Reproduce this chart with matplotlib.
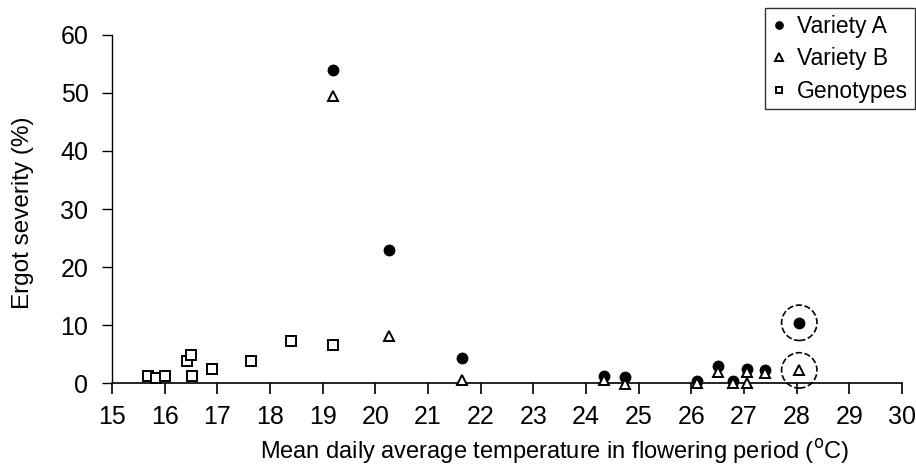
import matplotlib.pyplot as plt

plt.rcParams['font.family'] = ['Liberation Sans', 'DejaVu Sans']

# Variety A (filled circles)
xa = [19.2, 20.25, 21.65, 24.35, 24.75, 26.1, 26.5, 26.8, 27.05, 27.4, 28.05]
ya = [54.0, 23.0, 4.3, 1.2, 1.0, 0.3, 3.0, 0.3, 2.5, 2.2, 10.4]

# Variety B (open triangles)
xb = [19.2, 20.25, 21.65, 24.35, 24.75, 26.1, 26.5, 26.8, 27.05, 27.05, 27.4, 28.05]
yb = [49.5, 8.1, 0.5, 0.5, -0.2, 0.0, 1.9, 0.0, 0.0, 2.0, 1.8, 2.2]

# Genotypes (open squares)
xg = [15.68, 15.83, 16.0, 16.43, 16.5, 16.52, 16.89, 17.64, 18.39, 19.2]
yg = [1.15, 0.87, 1.15, 3.9, 4.9, 1.15, 2.4, 3.9, 7.2, 6.6]

# highlighted (dashed circle) points
xh = [28.05, 28.05]
yh = [10.4, 2.2]

fig = plt.figure(figsize=(9.16, 4.65), dpi=100)
ax = fig.add_axes([0.1223, 0.176, 0.8624, 0.749])

ax.plot(xg, yg, 's', ms=6.8, mfc='white', mec='black', mew=1.4,
        ls='none', label='Genotypes', clip_on=False, zorder=3)
ax.plot(xa, ya, 'o', ms=7.5, color='black', ls='none',
        label='Variety A', clip_on=False, zorder=3)
ax.plot(xb, yb, '^', ms=7.5, mfc='white', mec='black', mew=1.4,
        ls='none', label='Variety B', clip_on=False, zorder=4)
ax.scatter(xh, yh, s=650, facecolors='none', edgecolors='black',
           linestyles='--', linewidths=1.2, clip_on=False, zorder=2)

ax.set_xlim(15, 30)
ax.set_ylim(0, 60)
ax.set_xticks(range(15, 31))
ax.set_yticks(range(0, 61, 10))

for s in ['top', 'right']:
    ax.spines[s].set_visible(False)
ax.spines['bottom'].set_linewidth(1.2)
ax.spines['left'].set_linewidth(1.0)
ax.tick_params(axis='x', direction='out', length=8, width=1.2,
               labelsize=18, pad=8)
ax.tick_params(axis='y', direction='out', length=7, width=1.0,
               labelsize=18, pad=10)

ax.set_xlabel('Mean daily average temperature in flowering period ($^{\\rm o}$C)',
              fontsize=17)
ax.set_ylabel('Ergot severity (%)', fontsize=17.5)
ax.xaxis.set_label_coords(0.561, -0.155, transform=ax.transAxes)
ax.xaxis.label.set_va('top')
ax.yaxis.set_label_coords(-0.113, 0.49, transform=ax.transAxes)
ax.yaxis.label.set_va('center')

h, l = ax.get_legend_handles_labels()
order = [1, 2, 0]
leg = fig.legend([h[i] for i in order], [l[i] for i in order],
                 loc='upper right', bbox_to_anchor=(0.999, 0.982),
                 borderaxespad=0, fontsize=16.5, frameon=True, fancybox=False,
                 edgecolor='black', handlelength=0.6, handletextpad=0.5,
                 borderpad=0.3, labelspacing=0.4, markerscale=0.7)
leg.get_frame().set_linewidth(1.0)

fig.savefig('out.png', dpi=100)
